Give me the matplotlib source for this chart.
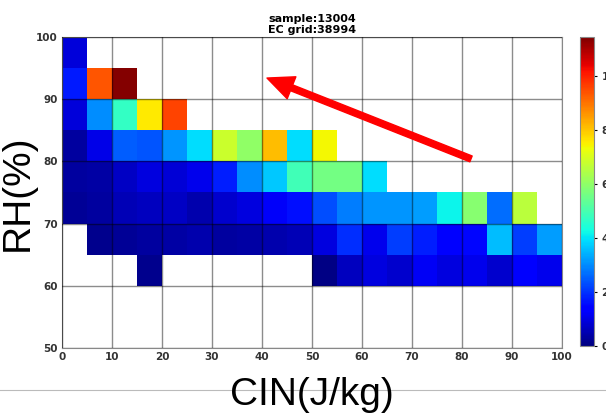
import numpy as np
import matplotlib
matplotlib.use("Agg")
import matplotlib.pyplot as plt
import matplotlib.lines as mlines

nan = np.nan

# bin edges
cin_edges = np.arange(0, 105, 5)
rh_edges = np.arange(60, 105, 5)

# values per RH row (CIN bins 0-5, 5-10, ..., 95-100)
rh_60_65 = [nan, nan, nan, 0.16, nan, nan, nan, nan, nan, nan,
            0.05, 0.63, 0.95, 0.79, 1.2, 0.95, 1.1, 0.79, 1.35, 1.1]
rh_65_70 = [nan, 0.16, 0.25, 0.32, 0.4, 0.48, 0.32, 0.4, 0.48, 0.55,
            0.95, 1.96, 1.1, 2.14, 1.78, 1.3, 1.5, 3.57, 2.14, 3.21]
rh_70_75 = [0.25, 0.32, 0.55, 0.63, 0.7, 0.48, 0.79, 0.95, 1.25, 1.6,
            2.3, 2.85, 3.12, 3.12, 3.21, 4.2, 5.9, 2.68, 6.6, nan]
rh_75_80 = [0.32, 0.4, 0.7, 0.95, 0.87, 1.1, 1.78, 3.03, 3.7, 4.9,
            5.6, 5.6, 3.92, nan, nan, nan, nan, nan, nan, nan]
rh_80_85 = [0.32, 1.05, 2.5, 2.4, 3.1, 3.9, 6.8, 6.0, 8.1, 3.9,
            7.4, nan, nan, nan, nan, nan, nan, nan, nan, nan]
rh_85_90 = [0.9, 3.03, 4.7, 7.6, 9.6, nan, nan, nan, nan, nan,
            nan, nan, nan, nan, nan, nan, nan, nan, nan, nan]
rh_90_95 = [1.7, 9.35, 11.4, nan, nan, nan, nan, nan, nan, nan,
            nan, nan, nan, nan, nan, nan, nan, nan, nan, nan]
rh_95_100 = [0.9, nan, nan, nan, nan, nan, nan, nan, nan, nan,
             nan, nan, nan, nan, nan, nan, nan, nan, nan, nan]

n_sample = 13004
n_grid = 38994


def main():
    grid = np.ma.masked_invalid(np.array([rh_60_65, rh_65_70, rh_70_75, rh_75_80,
                                          rh_80_85, rh_85_90, rh_90_95, rh_95_100]))

    fig = plt.figure(figsize=(6.06, 4.18), dpi=100)
    ax = fig.add_axes([0.1023, 0.1675, 0.8251, 0.744])
    cax = fig.add_axes([0.957, 0.1722, 0.023, 0.739])

    mesh = ax.pcolormesh(cin_edges, rh_edges, grid, cmap="jet", vmin=0, vmax=11.45)

    ax.set_xlim(0, 100)
    ax.set_ylim(50, 100)
    ax.set_xticks(np.arange(0, 101, 10))
    ax.set_yticks(np.arange(50, 101, 10))
    ax.set_axisbelow(False)
    ax.grid(True, color="k", alpha=0.45, lw=1)
    ax.tick_params(length=0, pad=3, labelsize=7.5, labelcolor="#333333")
    for lab in ax.get_xticklabels() + ax.get_yticklabels():
        lab.set_fontweight("bold")
    for sp in ax.spines.values():
        sp.set_color("#888888")

    ax.set_title(f"sample:{n_sample}\nEC grid:{n_grid}", fontsize=8,
                 fontweight="bold", pad=3, linespacing=1.1)
    ax.set_xlabel("CIN(J/kg)", fontsize=28, family="Liberation Sans", labelpad=11)
    ax.set_ylabel("RH(%)", fontsize=28, family="Liberation Sans")
    # place the y label just inside the left edge, as in the reference
    ax.yaxis.set_label_coords(-0.052, 0.5)

    # red arrow
    ax.annotate("", xy=(41, 93.4), xytext=(81.8, 80.4),
                arrowprops=dict(facecolor="red", edgecolor="red", width=4.5,
                                headwidth=17, headlength=19, shrink=0))

    cb = fig.colorbar(mesh, cax=cax, ticks=np.arange(0, 11, 2))
    cb.outline.set_edgecolor("#888888")
    cax.tick_params(labelsize=7.5, length=2, labelcolor="#333333")
    for lab in cax.get_yticklabels():
        lab.set_fontweight("bold")

    # separator line
    fig.add_artist(mlines.Line2D([0, 1], [1 - 390 / 418, 1 - 390 / 418],
                                 color="#bbbbbb", lw=0.8, transform=fig.transFigure,
                                 zorder=0))

    fig.savefig("out.png", dpi=100)


if __name__ == "__main__":
    main()
